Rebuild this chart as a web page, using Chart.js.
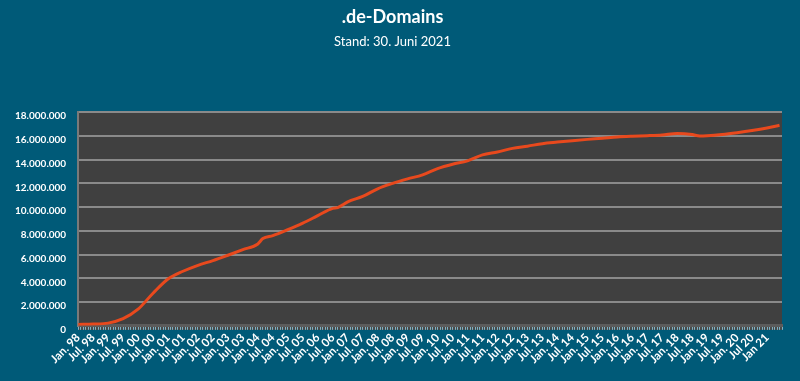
<!DOCTYPE html>
<html>
<head>
<meta charset="utf-8">
<script src="https://cdn.jsdelivr.net/npm/chart.js@4"></script>
<style>
  html, body { margin:0; padding:0; background:#005a78; }
  #wrap { width:800px; height:381px; }
</style>
</head>
<body>
<div id="wrap"><canvas id="chart" width="800" height="381"></canvas></div>
<script>
// month offset from Jan. 98 and .de domain count
const months = [0,6,12,18,24,30,36,42,48,54,60,66,72,74,78,84,90,96,102,104,106,108,114,120,126,132,138,144,150,156,162,168,174,180,186,192,198,204,210,216,222,228,234,240,246,249,252,258,264,270,276,281];
const domains = [120000,150000,230000,600000,1400000,2750000,3950000,4600000,5100000,5500000,5950000,6420000,6900000,7350000,7600000,8100000,8650000,9280000,9900000,9960000,10200000,10450000,10900000,11550000,12000000,12380000,12720000,13250000,13620000,13900000,14400000,14650000,14950000,15140000,15350000,15480000,15600000,15710000,15810000,15920000,15980000,16020000,16080000,16200000,16120000,16000000,16020000,16120000,16270000,16450000,16670000,16900000];

// one label every 6 months
const tickLabels = ["Jan. 98","Jul. 98","Jan. 99","Jul. 99","Jan. 00","Jul. 00","Jan. 01","Jul. 01","Jan. 02","Jul. 02","Jan. 03","Jul. 03","Jan. 04","Jul. 04","Jan. 05","Jul. 05","Jan. 06","Jul. 06","Jan. 07","Jul. 07","Jan. 08","Jul. 08","Jan. 09","Jul. 09","Jan. 10","Jul. 10","Jan. 11","Jul. 11","Jan. 12","Jul. 12","Jan. 13","Jul. 13","Jan. 14","Jul. 14","Jan. 15","Jul. 15","Jan. 16","Jul. 16","Jan. 17","Jul. 17","Jan. 18","Jul. 18","Jan. 19","Jul. 19","Jan. 20","Jul 20","Jan 21"];

const TITLE = ".de-Domains";
const SUBTITLE = "Stand: 30. Juni 2021";

function fmt(v){
  return String(v).replace(/\B(?=(\d{3})+(?!\d))/g, '.');
}

const plotBg = {
  id: 'plotBg',
  beforeDraw(chart){
    const {ctx, chartArea:a} = chart;
    ctx.save();
    ctx.fillStyle = '#404040';
    ctx.fillRect(a.left, a.top, a.right - a.left, a.bottom - a.top);
    // floor strip
    ctx.fillStyle = '#4a4a4a';
    ctx.fillRect(a.left, a.bottom, a.right - a.left, 4);
    ctx.restore();
  }
};

const points = months.map((m, i) => ({x: m, y: domains[i]}));

new Chart(document.getElementById('chart').getContext('2d'), {
  type: 'line',
  data: {
    datasets: [{
      data: points,
      borderColor: '#e8491d',
      borderWidth: 3,
      pointRadius: 0,
      tension: 0.3,
      cubicInterpolationMode: 'monotone',
      fill: false
    }]
  },
  options: {
    responsive: false,
    animation: false,
    layout: { padding: { top: 6, left: 3, right: 18, bottom: 14 } },
    plugins: {
      legend: { display: false },
      tooltip: { enabled: false },
      title: {
        display: true, text: TITLE, color: '#ffffff',
        font: { family: 'Lato', size: 18, weight: 'bold' },
        padding: { top: 0, bottom: 6 }
      },
      subtitle: {
        display: true, text: SUBTITLE, color: '#ffffff',
        font: { family: 'Lato', size: 13 },
        padding: { top: 0, bottom: 63 }
      }
    },
    scales: {
      x: {
        type: 'linear', min: 0, max: 282,
        afterBuildTicks(axis){
          const t = [];
          for (let m = 0; m <= 282; m++) t.push({value: m});
          axis.ticks = t;
        },
        ticks: {
          autoSkip: false, minRotation: 45, maxRotation: 45, padding: 1,
          color: '#ffffff',
          font: { family: 'Lato', size: 11.5, weight: 'bold' },
          callback: (v) => (v % 6 === 0 && tickLabels[v / 6]) ? tickLabels[v / 6] : ''
        },
        grid: { drawOnChartArea: false, drawTicks: true, tickLength: 4, color: '#7fb3c4', lineWidth: 1 },
        border: { display: true, color: '#5c5c5c', width: 3 }
      },
      y: {
        min: 0, max: 18000000,
        ticks: {
          stepSize: 2000000, padding: 12, labelOffset: 4,
          color: '#ffffff',
          font: { family: 'Lato', size: 10, weight: 'bold' },
          callback: (v) => fmt(v)
        },
        grid: { color: '#8a8a8a', lineWidth: 2, drawTicks: false },
        border: { display: true, color: '#7a7a7a', width: 2 }
      }
    }
  },
  plugins: [plotBg]
});
</script>
</body>
</html>
